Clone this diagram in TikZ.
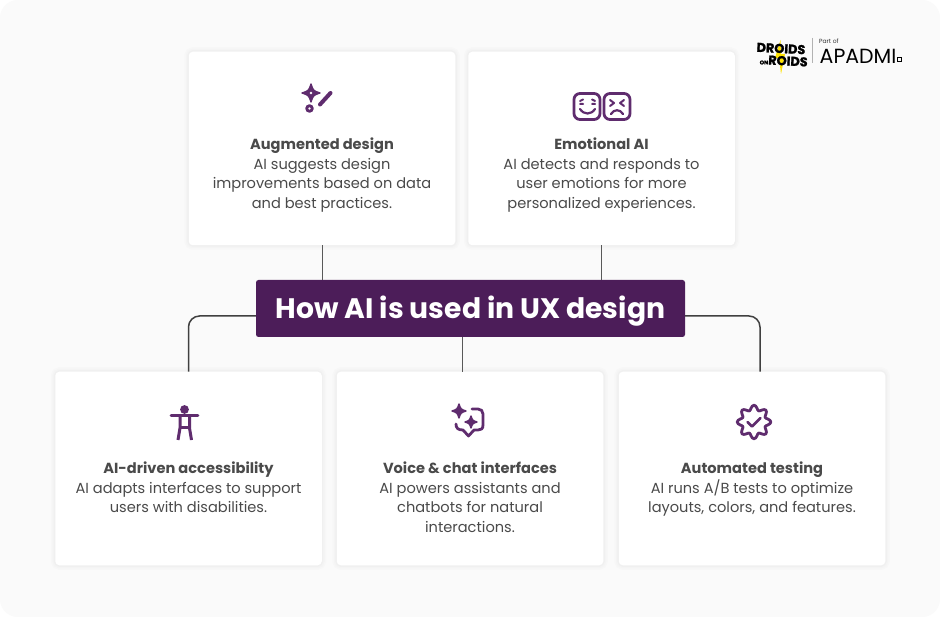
\documentclass[tikz,border=0pt]{standalone}
\usepackage{fontspec}
\setmainfont{Poppins}
\newfontfamily\logofont[BoldFeatures={FakeBold=1.5}]{Poppins}
\usetikzlibrary{positioning}
\definecolor{plum}{HTML}{4C1D59}
\definecolor{iconplum}{HTML}{5F2C6E}
\definecolor{bodygray}{HTML}{4A4A4A}
\definecolor{pagegray}{HTML}{FAFAFA}
\tikzset{
  cardbox/.style={fill=white,rounded corners=4pt,minimum width=266.5pt,minimum height=193.5pt,inner sep=0pt,
    preaction={draw=black,draw opacity=.012,line width=9pt},
    preaction={draw=black,draw opacity=.012,line width=6pt},
    preaction={draw=black,draw opacity=.015,line width=3pt}},
  cardtext/.style={anchor=north,align=center,text=bodygray,font=\fontsize{14.6}{19.5}\selectfont,inner sep=0pt},
  thinline/.style={draw=black!65,line width=.8pt},
  thickline/.style={draw=black!75,line width=1.5pt,rounded corners=11pt},
  iconline/.style={draw=iconplum,line width=2.8pt,line cap=round,line join=round},
  sparkle/.style={fill=iconplum,draw=iconplum,line width=1.4pt,line join=round}
}
\newcommand{\sparkshape}[3]{% centre x, centre y, radius
  \filldraw[sparkle] (#1-#3,#2) .. controls (#1-#3*.25,#2-#3*.25) .. (#1,#2-#3)
    .. controls (#1+#3*.25,#2-#3*.25) .. (#1+#3,#2)
    .. controls (#1+#3*.25,#2+#3*.25) .. (#1,#2+#3)
    .. controls (#1-#3*.25,#2+#3*.25) .. cycle;}
\begin{document}
\begin{tikzpicture}[x=1pt,y=-1pt]
\useasboundingbox (0,0) rectangle (940,617);
\fill[white] (0,0) rectangle (940,617);
\fill[pagegray,rounded corners=18pt] (0,0) rectangle (940,617);
% cards
\node[cardbox] (augmented) at (322,148.5) {};
\node[cardbox] (emotional) at (601.5,148.5) {};
\node[cardbox] (access) at (188.5,468.5) {};
\node[cardbox] (voice) at (470,468.5) {};
\node[cardbox] (automated) at (752,468.5) {};
\node[fill=plum,rounded corners=2.5pt,minimum width=429pt,minimum height=57pt,inner sep=0pt,text=white,
  text height=27pt,text depth=6pt,font=\fontsize{28.2}{30}\selectfont\bfseries] (title) at (470.5,308.5) {How AI is used in UX design};
% connectors
\draw[thinline] (augmented.south) -- (augmented.south |- title.north);
\draw[thinline] (emotional.south) -- (emotional.south |- title.north);
\draw[thinline] ([xshift=-8pt]voice.north) -- ([xshift=-8pt]voice.north |- title.south);
\draw[thickline] ([yshift=-7.5pt]title.west) -| (access.north);
\draw[thickline] ([yshift=-7.5pt]title.east) -| ([xshift=8pt]automated.north);
% texts
\node[cardtext] (augmentedtext) at (322,138) {{\bfseries Augmented design}\\AI suggests design\\improvements based on data\\and best practices.};
\node[cardtext] (emotionaltext) at (601.5,138) {{\bfseries Emotional AI}\\AI detects and responds to\\user emotions for more\\personalized experiences.};
\node[cardtext] (accesstext) at (188.5,462) {{\bfseries AI-driven accessibility}\\AI adapts interfaces to support\\users with disabilities.};
\node[cardtext] (voicetext) at (470,462) {{\bfseries Voice \& chat interfaces}\\AI powers assistants and\\chatbots for natural\\interactions.};
\node[cardtext] (automatedtext) at (752,462) {{\bfseries Automated testing}\\AI runs A/B tests to optimize\\layouts, colors, and features.};
% icon: wand
\sparkshape{311}{93}{9}
\fill[white] (311,93) circle (1.4);
\draw[iconline,line width=4pt] (320,104.5) -- (330.5,93);
\draw[iconline] (309.5,108.5) circle (2.8);
% icon: faces
\draw[iconline,rounded corners=6pt] (574,93.5) rectangle (600,119.5);
\draw[iconline,rounded corners=6pt] (604,93.5) rectangle (630,119.5);
\draw[iconline,line width=2pt] (580,101) -- (583,99.5) (595,101) -- (592,99.5) (580,104) -- (583,104) (595,104) -- (592,104);
\draw[iconline,line width=2.2pt] (580,109) .. controls (584,115) and (591,115) .. (595,109);
\draw[iconline,line width=2pt] (610,100) -- (614,103) -- (610,106) (624,100) -- (620,103) -- (624,106);
\draw[iconline,line width=2.2pt] (611,114) .. controls (614,109) and (620,109) .. (623,114);
% icon: person
\fill[iconplum] (184.5,409.5) circle (4.4);
\draw[iconline] (171,415.5) -- (198,415.5);
\draw[iconline,line width=3pt,line join=miter,line cap=butt] (180,415) -- (180,428) -- (178,440);
\draw[iconline,line width=3pt,line join=miter,line cap=butt] (189.5,415) -- (189.5,428) -- (191.5,440);
\draw[iconline,line cap=butt] (180,427.5) -- (189.5,427.5);
% icon: chat
\sparkshape{459}{411}{7}
\sparkshape{471}{422}{6}
\draw[iconline] (472,409) -- (478,409) .. controls (481,409) and (483,411) .. (483,414) -- (483,425)
  .. controls (483,429) and (481,430) .. (478,430) -- (474,430) -- (468.5,436) -- (463,430)
  .. controls (458,430) and (456,428) .. (456,424);
% icon: badge
\draw[iconline] plot[smooth cycle,samples=64,domain=0:354.375] ({754+(14.4+2.4*cos(8*\x))*sin(\x)},{422-(14.4+2.4*cos(8*\x))*cos(\x)});
\draw[iconline] (747.5,422) -- (752,426.5) -- (760.5,418);
% logo
\fill[yellow!85!orange] (780.5,40) -- (775,58) -- (779,58) -- (781,74) -- (785,54) -- (781,54) -- cycle;
\node[font=\logofont\fontsize{12.8}{12.8}\selectfont\bfseries,inner sep=0pt,rotate=-3] (droids) at (781,48.5) {DROIDS};
\node[font=\logofont\fontsize{12.8}{12.8}\selectfont\bfseries,inner sep=0pt,rotate=-3] (roids) at (788,61) {ROIDS};
\node[font=\logofont\fontsize{5.5}{5.5}\selectfont\bfseries,inner sep=0pt] (on) at (764,62.5) {ON};
\node[anchor=west,font=\fontsize{6}{7}\selectfont,text=black!80,inner sep=0pt] (partof) at (819,41) {Part of};
\node[anchor=west,font=\fontsize{20.5}{21}\selectfont,inner sep=0pt] (apadmi) at (819.5,56) {APADMI};
\draw[black!30,line width=.7pt] (812,38) -- (812,63);
\draw[black,line width=1.3pt] (897.5,57.5) rectangle (901.5,61.5);
\end{tikzpicture}
\end{document}
